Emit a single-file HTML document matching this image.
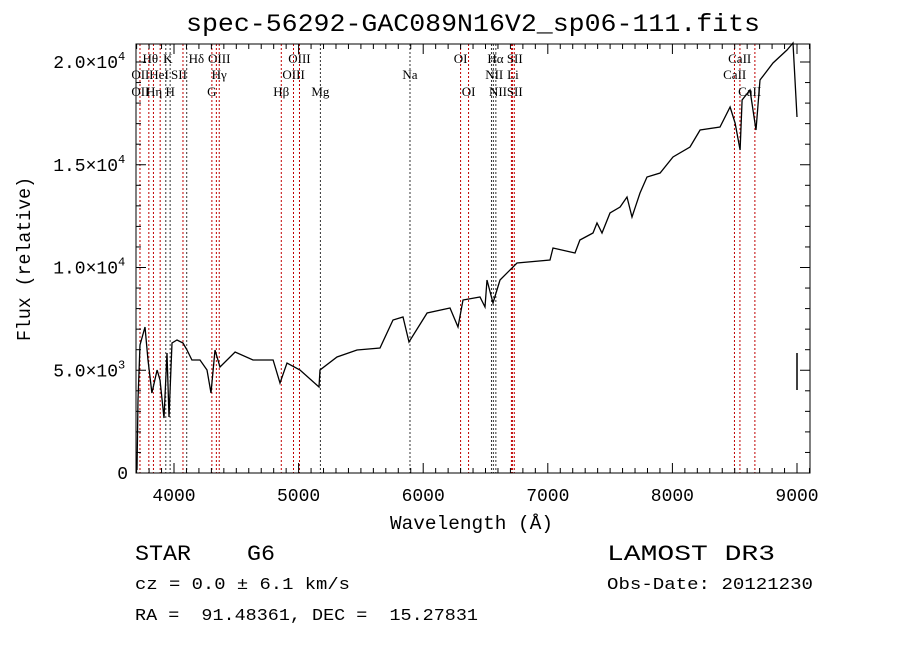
<!DOCTYPE html>
<html><head><meta charset="utf-8"><style>
html,body{margin:0;padding:0;background:#fff;width:900px;height:649px;overflow:hidden}
svg{display:block}
text{white-space:pre}
.m{font-family:"Liberation Mono",monospace;fill:#000}
.s{font-family:"Liberation Serif",serif;font-size:13px;fill:#000}
</style></head><body>
<svg id="chart" width="900" height="649">
<text class="m" x="186" y="31" font-size="25" textLength="574" lengthAdjust="spacingAndGlyphs">spec-56292-GAC089N16V2_sp06-111.fits</text>
<g id="lines"></g>
<g id="labels"></g>
<g id="spec"></g>
<rect x="136" y="44" width="674" height="429" fill="none" stroke="#000" stroke-width="1"/>
<g id="ticks"></g>
<text class="m" x="390" y="529" font-size="19" textLength="163" lengthAdjust="spacingAndGlyphs">Wavelength (Å)</text>
<text class="m" x="0" y="0" font-size="19" textLength="164" lengthAdjust="spacingAndGlyphs" transform="translate(30,341) rotate(-90)">Flux (relative)</text>
<text class="m" x="135" y="560" font-size="22" textLength="140" lengthAdjust="spacingAndGlyphs">STAR    G6</text>
<text class="m" x="135" y="589" font-size="17" textLength="215" lengthAdjust="spacingAndGlyphs">cz = 0.0 ± 6.1 km/s</text>
<text class="m" x="135" y="620" font-size="17" textLength="343" lengthAdjust="spacingAndGlyphs">RA =  91.48361, DEC =  15.27831</text>
<text class="m" x="607" y="560" font-size="22" textLength="168" lengthAdjust="spacingAndGlyphs">LAMOST DR3</text>
<text class="m" x="607" y="589" font-size="17" textLength="206" lengthAdjust="spacingAndGlyphs">Obs-Date: 20121230</text>
</svg>
<script>
const wavelengths=[3703,3711,3727,3767,3791,3823,3864,3888,3920,3944,3960,3984,4024,4072,4104,4144,4209,4265,4297,4329,4369,4490,4634,4795,4851,4907,5011,5164,5172,5308,5469,5653,5758,5838,5886,6031,6215,6279,6319,6456,6496,6512,6560,6616,6753,7018,7042,7218,7258,7363,7395,7435,7499,7580,7636,7676,7740,7796,7901,8005,8141,8222,8382,8463,8503,8543,8559,8623,8671,8703,8807,8920,8968,9000];
const fluxes=[146,3552,6228,7104,5498,3893,5012,4525,2676,5839,2725,6326,6472,6326,5985,5499,5499,5012,3893,5985,5158,5888,5499,5499,4379,5353,5012,4185,5012,5645,5985,6083,7445,7591,6374,7786,8029,7104,8418,8564,8078,9391,8272,9391,10219,10365,10949,10705,11338,11678,12165,11678,12652,12944,13430,12457,13625,14403,14598,15377,15863,16690,16836,17810,17031,15717,18150,18637,16690,19123,19951,20583,20924,17323];
const tailWave=[9000,9000];
const tailFlux=[5839,4039];
const lineWaves=[3727,3798,3835,3889,3934,3969,4072,4102,4304,4340,4363,4861,4959,5007,5175,5894,6300,6364,6548,6563,6583,6708,6716,6731,8498,8542,8662];
const lineBlack=[0,0,0,0,1,1,0,1,0,0,0,0,0,0,1,1,0,0,1,1,1,0,0,0,0,0,0];
const labelText=["Hθ","K","Hδ","OIII","OIII","OI","Hα","SII","CaII","OII","HeI","SII","Hγ","OIII","Na","NII","Li","CaII","OII","Hη","H","G","Hβ","Mg","OI","NII","SII","CaII"];
const labelWave=[3810,3950,4180,4363,5007,6300,6580,6735,8540,3730,3880,4040,4363,4960,5894,6570,6720,8500,3730,3840,3969,4304,4861,5175,6364,6600,6735,8620];
const labelRow=[0,0,0,0,0,0,0,0,0,1,1,1,1,1,1,1,1,1,2,2,2,2,2,2,2,2,2,2];
const yTicks=["0","5.0×10","1.0×10","1.5×10","2.0×10"];
const yTickVals=[0,5000,10000,15000,20000];
const xTickVals=[4000,5000,6000,7000,8000,9000];

const X=w=>136+(w-3695)*0.1246;
const Y=f=>473-f*0.02055;
const NS="http://www.w3.org/2000/svg";
function mk(tag,parent,attrs){const e=document.createElementNS(NS,tag);for(const k in attrs)e.setAttribute(k,attrs[k]);parent.appendChild(e);return e;}

const gl=document.getElementById('lines');
lineWaves.forEach((w,i)=>{
  const l=mk('line',gl,{x1:X(w),x2:X(w),y1:44,y2:473,stroke:lineBlack[i]?'#333':'#c00000','stroke-width':1,'stroke-dasharray':'2,2'});
  
  
});
const glb=document.getElementById('labels');
const rowY=[63,79,96];
labelText.forEach((t,i)=>{
  const e=mk('text',glb,{x:X(labelWave[i]),y:rowY[labelRow[i]],'text-anchor':'middle',class:'s'});
  e.textContent=t;
  
  
});
const gs=document.getElementById('spec');
let d='';
wavelengths.forEach((w,i)=>{d+=(i?'L':'M')+X(w).toFixed(1)+' '+Y(fluxes[i]).toFixed(1);});
const p=mk('path',gs,{d:d,fill:'none',stroke:'#000','stroke-width':1.3});


const p2=mk('path',gs,{d:'M'+X(tailWave[0])+' '+Y(tailFlux[0])+'L'+X(tailWave[1])+' '+Y(tailFlux[1]),stroke:'#000','stroke-width':1.5});



const gt=document.getElementById('ticks');
for(let w=3700;w<=9100;w+=100){
  const maj=w%1000===0;const L=maj?10:5;
  mk('line',gt,{x1:X(w),x2:X(w),y1:473,y2:473-L,stroke:'#000'});
  mk('line',gt,{x1:X(w),x2:X(w),y1:44,y2:44+L,stroke:'#000'});
}
xTickVals.forEach(v=>{
  const t=mk('text',gt,{x:X(v),y:501,'text-anchor':'middle',class:'m','font-size':18});
  t.textContent=String(v);
  
  
});
for(let f=0;f<=20800;f+=1000){
  const maj=f%5000===0;const L=maj?10:5;
  if(Y(f)<44)break;
  mk('line',gt,{x1:136,x2:136+L,y1:Y(f),y2:Y(f),stroke:'#000'});
  mk('line',gt,{x1:810,x2:810-L,y1:Y(f),y2:Y(f),stroke:'#000'});
}
yTicks.forEach((s,i)=>{
  const t=mk('text',gt,{x:i?118:128,y:Y(yTickVals[i])+6,'text-anchor':'end',class:'m','font-size':18});
  t.textContent=s;
  
  
  if(i){const sp=mk('text',gt,{x:118,y:Y(yTickVals[i])-2,class:'m','font-size':12});sp.textContent=(i===1?'3':'4');
  
  }
});
</script>
</body></html>
